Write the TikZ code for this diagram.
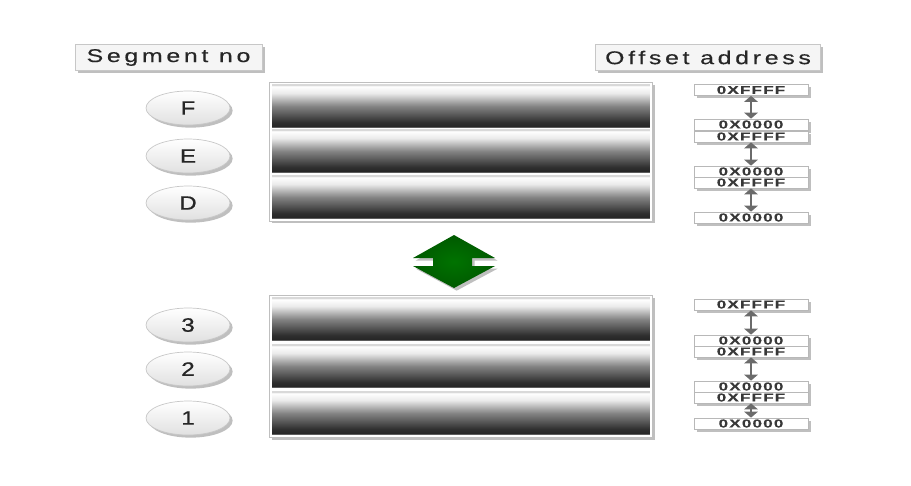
\documentclass[tikz,border=0pt]{standalone}
\usepackage{fontspec}
\usepackage{tikz}
\usetikzlibrary{shapes.geometric}
\usetikzlibrary{arrows.meta}
\usetikzlibrary{shadows}
\usetikzlibrary{fit,backgrounds}

\newfontfamily\labfont[FakeStretch=1.35,LetterSpace=20,FakeBold=0.4]{Liberation Sans}
\newfontfamily\segfont[FakeStretch=1.25,FakeBold=0.8]{Liberation Sans}
\newfontfamily\hexfont[FakeStretch=1.5,LetterSpace=10,FakeBold=0.5]{Liberation Sans Bold}

\pgfdeclareverticalshading{barshade}{100bp}{
  color(0bp)=(black!50); color(25bp)=(black!50); color(26.5bp)=(black!85);
  color(31bp)=(black!82); color(50bp)=(black!48); color(65bp)=(black!8);
  color(73bp)=(white); color(74bp)=(black!15); color(75bp)=(black!15);
  color(100bp)=(black!15)}

\tikzset{
  soft/.style={drop shadow={shadow xshift=1.5pt,shadow yshift=-1.5pt,opacity=.25,fill=black}},
  tag/.style={draw=black!22,fill=black!4,minimum width=3.74cm,minimum height=.52cm,
    inner sep=0pt,font=\labfont\fontsize{10.5}{11}\selectfont,text=black!85,soft},
  seg/.style={ellipse,draw=black!22,top color=white,bottom color=black!12,
    minimum width=1.68cm,minimum height=.68cm,inner sep=0pt,
    font=\segfont\fontsize{11}{11}\selectfont,text=black!85,soft},
  bar/.style={rectangle,shading=barshade,minimum width=7.56cm,minimum height=.86cm,inner sep=0pt},
  frame/.style={draw=black!25,fill=white,inner sep=.04cm,soft},
  hexbox/.style={draw=black!28,fill=white,minimum width=2.28cm,minimum height=.22cm,
    inner sep=0pt,font=\hexfont\fontsize{6.5}{6.5}\selectfont,text=black!78,soft},
  span/.style={{Triangle[width=.27cm,length=.12cm]}-{Triangle[width=.27cm,length=.12cm]},
    line width=1.6pt,draw=black!58},
}

\begin{document}
\begin{tikzpicture}[x=.02cm,y=-.02cm]
  \useasboundingbox (0,0) rectangle (911,485);

  % headings
  \node (segno) [tag] at (168.5,57.5) {Segment no};
  \node (offad) [tag,minimum width=4.5cm] at (708,57.5) {Offset address};

  % upper segments
  \node (barF) [bar] at (461,106) {};
  \node (barE) [bar] at (461,151) {};
  \node (barD) [bar] at (461,197) {};
  \begin{scope}[on background layer]
    \node (topstack) [frame,fit=(barF)(barD)] {};
  \end{scope}
  \node (segF) [seg] at (188,108) {F};
  \node (segE) [seg] at (188,156) {E};
  \node (segD) [seg] at (188,203) {D};

  % lower segments
  \node (bar3) [bar] at (461,319) {};
  \node (bar2) [bar] at (461,366) {};
  \node (bar1) [bar] at (461,413) {};
  \begin{scope}[on background layer]
    \node (lowstack) [frame,fit=(bar3)(bar1)] {};
  \end{scope}
  \node (seg3) [seg] at (188,325) {3};
  \node (seg2) [seg] at (188,369) {2};
  \node (seg1) [seg] at (188,418) {1};

  % swap arrow
  \coordinate (swap) at (454,261.5);
  \path[soft,inner color=green!45!black,outer color=green!35!black]
    (swap) ++(0,-26.5) -- ++(41,23) -- ++(-23,0) -- ++(0,8) -- ++(23,0)
    -- ++(-41,22) -- ++(-41,-22) -- ++(20,0) -- ++(0,-8) -- ++(-20,0) -- cycle;

  % offsets, upper
  \node (hF1) [hexbox] at (751,90) {0XFFFF};
  \node (hF0) [hexbox] at (751,124.5) {0X0000};
  \node (hE1) [hexbox] at (751,136.5) {0XFFFF};
  \node (hE0) [hexbox] at (751,171.5) {0X0000};
  \node (hD1) [hexbox] at (751,182.5) {0XFFFF};
  \node (hD0) [hexbox] at (751,217.5) {0X0000};
  \draw[span] (hF1) -- (hF0);
  \draw[span] (hE1) -- (hE0);
  \draw[span] (hD1) -- (hD0);

  % offsets, lower
  \node (h31) [hexbox] at (751,304.5) {0XFFFF};
  \node (h30) [hexbox] at (751,340.5) {0X0000};
  \node (h21) [hexbox] at (751,351.5) {0XFFFF};
  \node (h20) [hexbox] at (751,386.5) {0X0000};
  \node (h11) [hexbox] at (751,397.5) {0XFFFF};
  \node (h10) [hexbox] at (751,423.5) {0X0000};
  \draw[span] (h31) -- (h30);
  \draw[span] (h21) -- (h20);
  \draw[span] (h11) -- (h10);
\end{tikzpicture}
\end{document}
